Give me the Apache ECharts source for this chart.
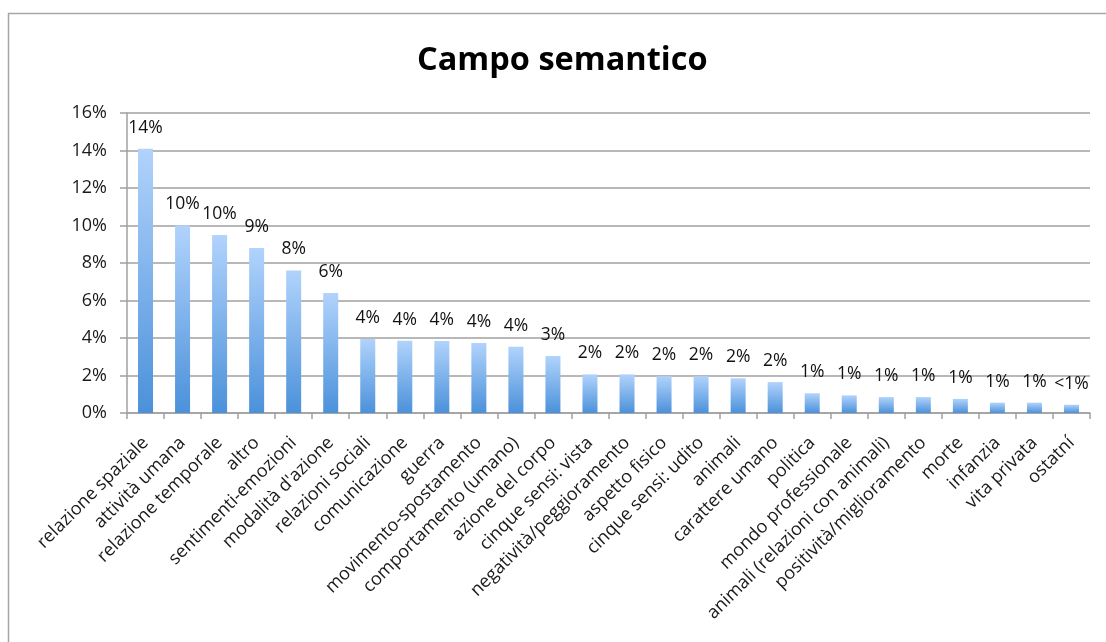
<!DOCTYPE html>
<html>
<head>
<meta charset="utf-8">
<script src="https://cdn.jsdelivr.net/npm/echarts@6/dist/echarts.min.js"></script>
<style>
	html, body { margin: 0; padding: 0; background: #fff; }
	#chart { width: 1106px; height: 642px; }
</style>
</head>
<body>
<div id="chart"></div>
<script>
	// categorie e valori (percentuali)
	var categories = ['relazione spaziale', 'attività umana', 'relazione temporale', 'altro',
		'sentimenti-emozioni', "modalità d'azione", 'relazioni sociali', 'comunicazione', 'guerra',
		'movimento-spostamento', 'comportamento (umano)', 'azione del corpo', 'cinque sensi: vista',
		'negatività/peggioramento', 'aspetto fisico', 'cinque sensi: udito', 'animali', 'carattere umano',
		'politica', 'mondo professionale', 'animali (relazioni con animali)', 'positività/miglioramento',
		'morte', 'infanzia', 'vita privata', 'ostatní'];
	var values = [14.1, 10.0, 9.5, 8.8, 7.6, 6.4, 3.95, 3.86, 3.84, 3.73, 3.54, 3.04, 2.06,
		2.06, 1.96, 1.96, 1.85, 1.65, 1.05, 0.94, 0.85, 0.85, 0.75, 0.55, 0.55, 0.44];
	var valueLabels = ['14%', '10%', '10%', '9%', '8%', '6%', '4%', '4%', '4%', '4%', '4%', '3%', '2%',
		'2%', '2%', '2%', '2%', '2%', '1%', '1%', '1%', '1%', '1%', '1%', '1%', '<1%'];
	var yTicks = [0, 2, 4, 6, 8, 10, 12, 14, 16];

	var myChart = echarts.init(document.getElementById('chart'), null, {renderer: 'canvas'});
	var option = {
		animation: false,
		backgroundColor: '#fff',
		textStyle: { fontFamily: 'Open Sans' },
		graphic: [{
			type: 'rect',
			shape: { x: 8.5, y: 13.5, width: 1200, height: 700 },
			style: { fill: 'none', stroke: '#a6a6a6', lineWidth: 1.5 },
			silent: true
		}],
		title: {
			text: 'Campo semantico',
			left: 412,
			top: 39,
			textStyle: { fontFamily: 'Open Sans', fontWeight: 'bold', fontSize: 32.5, color: '#000' }
		},
		grid: { left: 127, right: 16, top: 113, bottom: 229, containLabel: false },
		xAxis: {
			type: 'category',
			data: categories,
			axisLine: { lineStyle: { color: '#a0a0a0', width: 1.5 } },
			axisTick: { show: true, length: 6, lineStyle: { color: '#a0a0a0', width: 1.5 } },
			axisLabel: {
				rotate: 45, interval: 0, margin: 27,
				fontSize: 18, color: '#1a1a1a', fontFamily: 'Open Sans'
			}
		},
		yAxis: {
			type: 'value',
			min: yTicks[0],
			max: yTicks[yTicks.length - 1],
			interval: 2,
			axisLine: { show: true, lineStyle: { color: '#a0a0a0', width: 1.5 } },
			axisTick: { show: true, length: 7, lineStyle: { color: '#a0a0a0', width: 1.5 } },
			splitLine: { lineStyle: { color: '#a0a0a0', width: 1.5 } },
			axisLabel: {
				margin: 20, fontSize: 18, color: '#1a1a1a', fontFamily: 'Open Sans',
				formatter: function (v) { return v + '%'; }
			}
		},
		series: [{
			type: 'bar',
			data: values,
			barWidth: 15,
			itemStyle: {
				color: new echarts.graphic.LinearGradient(0, 0, 0, 1, [
					{ offset: 0, color: '#b1d3fc' },
					{ offset: 1, color: '#4b91da' }
				])
			},
			label: {
				show: true,
				position: 'top',
				distance: 12,
				fontSize: 17.5,
				color: '#111',
				fontFamily: 'Open Sans',
				formatter: function (p) { return valueLabels[p.dataIndex]; }
			}
		}]
	};
	myChart.setOption(option);
</script>
</body>
</html>
